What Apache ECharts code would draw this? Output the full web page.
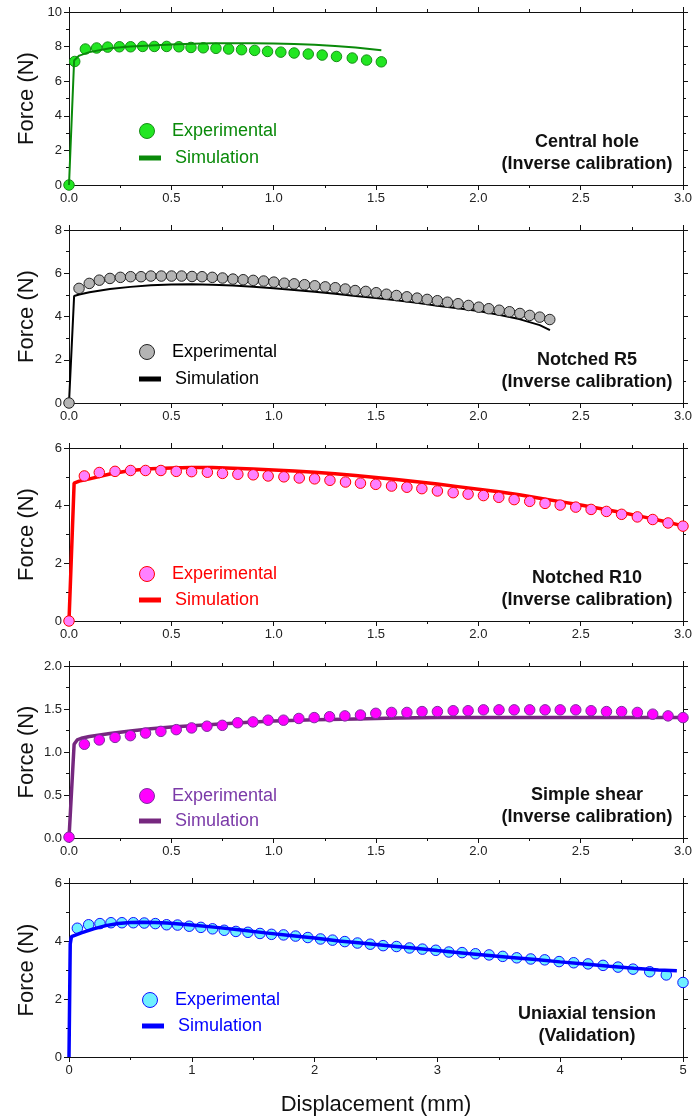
<!DOCTYPE html>
<html><head><meta charset="utf-8">
<script src="https://cdn.jsdelivr.net/npm/echarts@6/dist/echarts.min.js"></script>
<style>html,body{margin:0;padding:0;background:#fff}#c{width:696px;height:1120px}</style>
</head><body><div id="c"></div>
<script>
// ---- data ----
const centralHoleExp = [[0,0],[0.028,7.14],[0.080,7.86],[0.135,7.92],[0.189,7.97],[0.246,7.99],[0.301,7.99],[0.360,8.01],[0.417,8.01],[0.477,8.01],[0.537,7.99],[0.596,7.95],[0.656,7.93],[0.718,7.90],[0.780,7.86],[0.843,7.82],[0.907,7.78],[0.970,7.72],[1.035,7.68],[1.100,7.63],[1.169,7.57],[1.237,7.51],[1.307,7.43],[1.384,7.34],[1.454,7.22],[1.526,7.12]];
const centralHoleSim = [[0,0],[0.025,7.2],[0.05,7.48],[0.1,7.68],[0.2,7.9],[0.3,8.0],[0.4,8.07],[0.5,8.12],[0.6,8.16],[0.7,8.19],[0.8,8.2],[0.9,8.2],[1.0,8.18],[1.1,8.15],[1.2,8.1],[1.3,8.04],[1.4,7.95],[1.526,7.79]];
const notchedR5Exp = [[0,0],[0.049,5.30],[0.099,5.53],[0.148,5.68],[0.200,5.76],[0.251,5.81],[0.301,5.84],[0.352,5.84],[0.400,5.87],[0.451,5.87],[0.501,5.87],[0.550,5.87],[0.601,5.85],[0.650,5.84],[0.700,5.81],[0.750,5.78],[0.801,5.73],[0.851,5.70],[0.900,5.67],[0.951,5.64],[1.001,5.59],[1.052,5.54],[1.100,5.51],[1.151,5.47],[1.201,5.42],[1.252,5.37],[1.301,5.33],[1.350,5.27],[1.398,5.20],[1.450,5.16],[1.501,5.10],[1.551,5.03],[1.600,4.97],[1.651,4.91],[1.701,4.85],[1.750,4.79],[1.800,4.73],[1.849,4.66],[1.901,4.59],[1.952,4.51],[2.002,4.43],[2.051,4.36],[2.102,4.29],[2.152,4.22],[2.203,4.14],[2.251,4.05],[2.300,3.97],[2.349,3.86]];
const notchedR5Sim = [[0,0],[0.025,4.95],[0.05,5.02],[0.1,5.12],[0.2,5.27],[0.3,5.37],[0.4,5.44],[0.5,5.48],[0.6,5.49],[0.7,5.47],[0.8,5.43],[0.9,5.38],[1.0,5.31],[1.1,5.23],[1.2,5.14],[1.3,5.05],[1.4,4.95],[1.5,4.85],[1.6,4.75],[1.7,4.63],[1.8,4.5],[1.9,4.38],[2.0,4.25],[2.1,4.08],[2.2,3.88],[2.3,3.6],[2.35,3.37]];
const notchedR10Exp = [[0,0],[0.075,5.03],[0.148,5.15],[0.225,5.19],[0.301,5.22],[0.374,5.22],[0.449,5.22],[0.524,5.19],[0.599,5.18],[0.676,5.16],[0.750,5.12],[0.825,5.09],[0.900,5.07],[0.973,5.03],[1.050,5.00],[1.125,4.96],[1.200,4.93],[1.275,4.88],[1.351,4.82],[1.424,4.78],[1.499,4.74],[1.576,4.68],[1.651,4.64],[1.724,4.59],[1.800,4.51],[1.877,4.45],[1.950,4.40],[2.025,4.35],[2.100,4.29],[2.175,4.21],[2.251,4.15],[2.326,4.08],[2.400,4.02],[2.476,3.95],[2.551,3.87],[2.626,3.80],[2.700,3.70],[2.777,3.61],[2.852,3.52],[2.927,3.40],[3.0,3.29]];
const notchedR10Sim = [[0,0],[0.025,4.78],[0.05,4.85],[0.1,4.93],[0.2,5.1],[0.3,5.22],[0.4,5.28],[0.5,5.31],[0.6,5.32],[0.7,5.32],[0.8,5.3],[0.9,5.27],[1.0,5.24],[1.1,5.2],[1.2,5.16],[1.3,5.11],[1.4,5.05],[1.5,4.98],[1.6,4.91],[1.7,4.83],[1.8,4.75],[1.9,4.66],[2.0,4.57],[2.1,4.48],[2.2,4.38],[2.3,4.26],[2.4,4.14],[2.5,4.02],[2.6,3.89],[2.7,3.76],[2.8,3.62],[2.9,3.47],[3.0,3.3]];
const simpleShearExp = [[0,0.01],[0.075,1.09],[0.148,1.14],[0.225,1.17],[0.300,1.19],[0.374,1.22],[0.449,1.24],[0.524,1.26],[0.599,1.28],[0.674,1.30],[0.749,1.31],[0.824,1.34],[0.899,1.35],[0.973,1.37],[1.048,1.37],[1.123,1.39],[1.198,1.40],[1.273,1.41],[1.348,1.42],[1.424,1.43],[1.499,1.45],[1.576,1.46],[1.651,1.46],[1.725,1.47],[1.800,1.47],[1.877,1.48],[1.950,1.48],[2.025,1.49],[2.101,1.49],[2.175,1.49],[2.251,1.49],[2.326,1.49],[2.400,1.49],[2.476,1.49],[2.551,1.48],[2.626,1.47],[2.700,1.47],[2.777,1.46],[2.852,1.44],[2.927,1.42],[3.0,1.40]];
const simpleShearSim = [[0,0],[0.025,1.09],[0.04,1.14],[0.06,1.16],[0.1,1.18],[0.2,1.215],[0.3,1.245],[0.4,1.27],[0.5,1.29],[0.6,1.305],[0.7,1.32],[0.8,1.335],[0.9,1.35],[1.0,1.36],[1.2,1.375],[1.4,1.385],[1.6,1.395],[1.8,1.4],[2.0,1.4],[2.2,1.4],[2.4,1.4],[2.6,1.4],[2.8,1.4],[3.0,1.4]];
const uniaxialExp = [[0.068,4.44],[0.160,4.56],[0.252,4.60],[0.342,4.63],[0.431,4.63],[0.524,4.63],[0.613,4.62],[0.703,4.60],[0.795,4.56],[0.884,4.55],[0.979,4.51],[1.074,4.47],[1.169,4.42],[1.264,4.37],[1.359,4.33],[1.457,4.30],[1.555,4.26],[1.649,4.23],[1.747,4.21],[1.845,4.17],[1.945,4.12],[2.048,4.07],[2.146,4.03],[2.246,3.98],[2.349,3.93],[2.453,3.89],[2.558,3.84],[2.667,3.81],[2.773,3.76],[2.878,3.72],[2.987,3.68],[3.093,3.62],[3.201,3.60],[3.310,3.56],[3.421,3.52],[3.532,3.47],[3.646,3.42],[3.760,3.38],[3.874,3.35],[3.991,3.29],[4.110,3.25],[4.227,3.21],[4.349,3.16],[4.471,3.10],[4.593,3.03],[4.729,2.94],[4.864,2.83],[5.0,2.57]];
const uniaxialSim = [[0,0],[0.01,3.9],[0.02,4.15],[0.1,4.28],[0.2,4.42],[0.3,4.53],[0.4,4.6],[0.5,4.64],[0.6,4.65],[0.7,4.64],[0.8,4.62],[0.9,4.59],[1.0,4.55],[1.2,4.47],[1.4,4.38],[1.6,4.28],[1.8,4.19],[2.0,4.1],[2.2,4.0],[2.4,3.92],[2.6,3.84],[2.8,3.76],[3.0,3.67],[3.2,3.59],[3.4,3.51],[3.6,3.43],[3.8,3.36],[4.0,3.28],[4.2,3.21],[4.4,3.13],[4.6,3.06],[4.8,3.0],[4.95,2.97]];

const panelTitles = ['Central hole\n(Inverse calibration)','Notched R5\n(Inverse calibration)','Notched R10\n(Inverse calibration)','Simple shear\n(Inverse calibration)','Uniaxial tension\n(Validation)'];
const legendNames = ['Experimental','Simulation'];
const xAxisTitle = 'Displacement (mm)';
const yAxisTitle = 'Force (N)';

// ---- layout / style ----
const panels = [
  {exp:centralHoleExp, sim:centralHoleSim, top:12, h:173, xMax:3, xInt:0.5, xDec:1, yMax:10, yInt:2, yDec:0,
   fill:'#22e622', border:'#178f17', line:'#0a8a0a', lw:2, text:'#0a8a0a', lgX:134, lg1:126, lg2:153, lineTop:true},
  {exp:notchedR5Exp, sim:notchedR5Sim, top:230, h:173, xMax:3, xInt:0.5, xDec:1, yMax:8, yInt:2, yDec:0,
   fill:'#b4b4b4', border:'#222222', line:'#000000', lw:2, text:'#000000', lgX:134, lg1:347, lg2:374, lineTop:false},
  {exp:notchedR10Exp, sim:notchedR10Sim, top:448, h:173, xMax:3, xInt:0.5, xDec:1, yMax:6, yInt:2, yDec:0,
   fill:'#ff80ff', border:'#ff0000', line:'#ff0000', lw:3.5, text:'#ff0000', lgX:134, lg1:569, lg2:595, lineTop:false},
  {exp:simpleShearExp, sim:simpleShearSim, top:666, h:172, xMax:3, xInt:0.5, xDec:1, yMax:2, yInt:0.5, yDec:1,
   fill:'#ff00ff', border:'#7a2f9e', line:'#76287f', lw:3.5, text:'#7b3aa8', lgX:134, lg1:791, lg2:816, lineTop:false},
  {exp:uniaxialExp, sim:uniaxialSim, top:883, h:174, xMax:5, xInt:1, xDec:0, yMax:6, yInt:2, yDec:0,
   fill:'#6ff0ff', border:'#1010ff', line:'#0000ff', lw:3.5, text:'#0000ff', lgX:137, lg1:995, lg2:1021, lineTop:true}
];

const FONT = 'Arial, "Liberation Sans", sans-serif';
const grid = [], xAxis = [], yAxis = [], series = [], legend = [], graphic = [];

function axisCommon(extra){
  return Object.assign({
    type:'value', min:0,
    axisLine:{show:true, onZero:false, lineStyle:{color:'#111', width:1}},
    axisTick:{show:true, inside:false, length:5, lineStyle:{color:'#111', width:1}},
    minorTick:{show:true, splitNumber:2, length:3, lineStyle:{color:'#111', width:1}},
    splitLine:{show:false}, minorSplitLine:{show:false}
  }, extra);
}

panels.forEach((p, i) => {
  grid.push({left:69, right:13, top:p.top, height:p.h, containLabel:false});
  const lab = (dec) => ({show:true, fontSize:13, color:'#222', fontFamily:FONT, margin:7, formatter:(v)=>v.toFixed(dec)});
  xAxis.push(axisCommon({gridIndex:i, position:'bottom', max:p.xMax, interval:p.xInt, axisLabel:lab(p.xDec),
    name: i===4 ? xAxisTitle : '', nameLocation:'middle', nameGap:37, nameMoveOverlap:false,
    nameTextStyle:{fontSize:22, color:'#111', fontFamily:FONT}}));
  xAxis.push(axisCommon({gridIndex:i, position:'top', max:p.xMax, interval:p.xInt, axisLabel:{show:false}}));
  yAxis.push(axisCommon({gridIndex:i, position:'left', max:p.yMax, interval:p.yInt, axisLabel:lab(p.yDec),
    name:yAxisTitle, nameLocation:'middle', nameGap:31, nameMoveOverlap:false,
    nameTextStyle:{fontSize:22, color:'#111', fontFamily:FONT}}));
  yAxis.push(axisCommon({gridIndex:i, position:'right', max:p.yMax, interval:p.yInt, axisLabel:{show:false}}));

  series.push({type:'scatter', name:'exp'+i, xAxisIndex:2*i, yAxisIndex:2*i, data:p.exp,
    symbol:'circle', symbolSize:10.5, z: p.lineTop ? 2 : 4,
    itemStyle:{color:p.fill, borderColor:p.border, borderWidth:1, opacity:1}});
  series.push({type:'line', name:'sim'+i, xAxisIndex:2*i, yAxisIndex:2*i, data:p.sim,
    symbol:'none', showSymbol:false, smooth:false, z: p.lineTop ? 4 : 3,
    lineStyle:{color:p.line, width:p.lw}, itemStyle:{color:p.line}});

  const lgText = {color:p.text, fontSize:18, fontFamily:FONT, lineHeight:20, padding:[0,0,0,9]};
  legend.push({left:p.lgX, top:p.lg1-10, selectedMode:false, itemWidth:22, itemHeight:15,
    data:[{name:'exp'+i, icon:'circle'}], formatter:()=>legendNames[0], textStyle:lgText,
    itemStyle:{color:p.fill, borderColor:p.border, borderWidth:1}});
  legend.push({left:p.lgX, top:p.lg2-10, selectedMode:false, itemWidth:22, itemHeight:5,
    data:[{name:'sim'+i, icon:'rect'}], formatter:()=>legendNames[1], textStyle:lgText,
    itemStyle:{color:p.line, borderWidth:0}});

  graphic.push({type:'text', x:587, y:p.top + p.h - 54, z:10,
    style:{text:panelTitles[i], fill:'#111', font:'bold 18px ' + FONT, textAlign:'center', textVerticalAlign:'top', lineHeight:22}});
});

const chart = echarts.init(document.getElementById('c'), null, {renderer:'canvas'});
chart.setOption({animation:false, backgroundColor:'#fff', grid, xAxis, yAxis, series, legend, graphic});
</script></body></html>
